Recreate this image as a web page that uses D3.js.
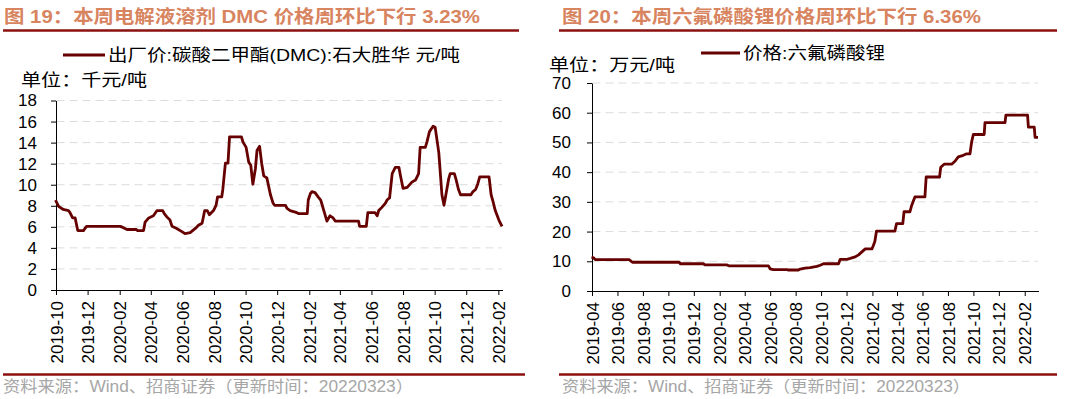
<!DOCTYPE html>
<html><head><meta charset="utf-8">
<script src="https://cdn.jsdelivr.net/npm/d3@7"></script>
<style>
html,body{margin:0;padding:0;background:#fff;}
svg{display:block;font-family:"Liberation Sans",Arial,"Noto Sans CJK SC",sans-serif;}
</style></head><body>
<svg id="c" width="1080" height="399"></svg>
<script>
// ---- Data: left chart (DMC, 千元/吨) ----
const dmcDates = ["2019-10-01","2019-10-07","2019-10-16","2019-10-26","2019-10-29","2019-11-03","2019-11-08","2019-11-10","2019-11-13","2019-11-24","2019-11-27","2019-11-30","2020-02-03","2020-02-08","2020-02-16","2020-03-05","2020-03-07","2020-03-19","2020-03-22","2020-03-29","2020-04-07","2020-04-14","2020-04-25","2020-04-28","2020-05-03","2020-05-09","2020-05-13","2020-05-22","2020-06-01","2020-06-07","2020-06-17","2020-06-27","2020-07-03","2020-07-10","2020-07-13","2020-07-15","2020-07-20","2020-07-24","2020-08-01","2020-08-06","2020-08-09","2020-08-17","2020-08-19","2020-08-24","2020-08-29","2020-09-01","2020-09-24","2020-09-27","2020-10-03","2020-10-08","2020-10-12","2020-10-16","2020-10-21","2020-10-24","2020-10-29","2020-11-02","2020-11-06","2020-11-12","2020-11-19","2020-11-24","2020-11-27","2020-12-18","2020-12-21","2020-12-27","2021-01-09","2021-01-13","2021-01-29","2021-01-31","2021-02-04","2021-02-07","2021-02-13","2021-02-19","2021-02-24","2021-03-02","2021-03-08","2021-03-14","2021-03-20","2021-03-24","2021-05-08","2021-05-10","2021-05-23","2021-05-26","2021-06-09","2021-06-13","2021-06-16","2021-06-22","2021-06-29","2021-07-02","2021-07-07","2021-07-12","2021-07-18","2021-07-25","2021-07-28","2021-08-02","2021-08-10","2021-08-19","2021-08-26","2021-09-01","2021-09-04","2021-09-14","2021-09-17","2021-09-22","2021-09-29","2021-10-03","2021-10-10","2021-10-16","2021-10-20","2021-10-23","2021-10-29","2021-11-01","2021-11-09","2021-11-12","2021-11-17","2021-11-21","2021-12-11","2021-12-15","2021-12-20","2021-12-24","2021-12-28","2022-01-15","2022-01-19","2022-01-23","2022-01-27","2022-02-03","2022-02-09"];
const dmcValues = [8.5,7.9,7.6,7.5,7.3,6.8,6.8,6.3,5.6,5.6,5.8,6.0,6.0,5.9,5.7,5.7,5.6,5.6,6.4,6.8,7.0,7.5,7.5,7.2,6.9,6.6,6.0,5.8,5.5,5.3,5.4,5.8,6.1,6.3,7.0,7.5,7.5,7.1,7.5,8.0,8.8,8.8,9.5,12.0,12.0,14.5,14.5,14.0,13.5,12.1,11.8,10.0,11.5,13.2,13.6,12.0,10.8,10.6,9.0,8.2,8.0,8.0,7.7,7.5,7.3,7.2,7.2,8.5,9.1,9.3,9.2,8.8,8.5,7.5,6.5,7.0,6.8,6.5,6.5,6.0,6.0,7.3,7.3,7.0,7.5,7.8,8.2,8.5,8.7,11.0,11.6,11.6,10.8,9.6,9.7,10.2,10.4,11.0,13.5,13.5,14.0,15.0,15.5,15.4,13.0,9.0,8.0,8.8,10.5,11.0,11.0,10.5,9.5,9.0,9.0,9.3,9.5,10.0,10.7,10.7,9.0,8.3,7.5,6.6,6.0];
const dmcTicks = ["2019-10","2019-12","2020-02","2020-04","2020-06","2020-08","2020-10","2020-12","2021-02","2021-04","2021-06","2021-08","2021-10","2021-12","2022-02"];
const dmcYTicks = [0,2,4,6,8,10,12,14,16,18];

// ---- Data: right chart (LiPF6, 万元/吨) ----
const lipDates = ["2019-04-01","2019-04-06","2019-04-10","2019-06-30","2019-07-08","2019-10-28","2019-10-31","2019-12-25","2019-12-29","2020-02-20","2020-02-24","2020-05-29","2020-06-02","2020-06-10","2020-07-12","2020-07-16","2020-08-09","2020-08-13","2020-08-25","2020-09-06","2020-09-22","2020-09-30","2020-10-08","2020-11-13","2020-11-17","2020-12-03","2020-12-11","2020-12-23","2020-12-31","2021-01-08","2021-01-16","2021-02-01","2021-02-04","2021-02-08","2021-02-12","2021-03-28","2021-04-01","2021-04-16","2021-04-19","2021-05-03","2021-05-07","2021-05-15","2021-06-08","2021-06-11","2021-07-13","2021-07-16","2021-07-24","2021-08-11","2021-08-19","2021-08-27","2021-09-08","2021-09-16","2021-09-24","2021-09-28","2021-10-02","2021-10-28","2021-10-30","2021-12-17","2021-12-19","2022-02-09","2022-02-11","2022-02-25","2022-02-27","2022-03-06"];
const lipValues = [11.2,11.0,10.4,10.4,9.5,9.5,9.0,9.0,8.6,8.6,8.3,8.3,7.3,7.0,7.0,6.9,6.9,7.2,7.5,7.7,8.1,8.5,9.0,9.0,10.5,10.5,10.8,11.3,12.0,13.0,14.0,14.0,15.0,16.5,20.0,20.0,22.5,22.5,26.5,26.5,28.5,31.5,31.5,38.2,38.2,41.5,42.5,42.5,43.5,45.0,45.5,46.0,46.0,50.0,52.5,52.5,56.5,56.5,59.0,59.0,55.0,55.0,51.5,51.5];
const lipTicks = ["2019-04","2019-06","2019-08","2019-10","2019-12","2020-02","2020-04","2020-06","2020-08","2020-10","2020-12","2021-02","2021-04","2021-06","2021-08","2021-10","2021-12","2022-02"];
const lipYTicks = [0,10,20,30,40,50,60,70];

const parseDay = d3.timeParse("%Y-%m-%d");
const parseMonth = d3.timeParse("%Y-%m");
const svg = d3.select("#c");

const LINE = "#660000";
const RULE = "#8b1111";
const TITLE = "#d7845f";

function chart(cfg) {
  const g = svg.append("g");
  const data = cfg.dates.map((d, i) => ({ d: parseDay(d), v: cfg.values[i] }));
  const x = d3.scaleTime().domain([parseDay(cfg.x0), parseDay(cfg.x1)]).range([cfg.left, cfg.right]);
  const y = d3.scaleLinear().domain([0, cfg.ymax]).range([cfg.bottom, cfg.top]);

  // title + rules
  g.append("text").attr("x", cfg.titleX).attr("y", 23).attr("fill", TITLE)
    .attr("font-size", 18).attr("font-weight", "bold")
    .attr("textLength", cfg.titleW).attr("lengthAdjust", "spacingAndGlyphs").text(cfg.title);
  g.append("line").attr("x1", cfg.ruleX0).attr("x2", cfg.ruleX1).attr("y1", 30.5).attr("y2", 30.5)
    .attr("stroke", RULE).attr("stroke-width", 2.5);
  g.append("line").attr("x1", cfg.ruleX0).attr("x2", cfg.ruleX1b).attr("y1", 374.5).attr("y2", 374.5)
    .attr("stroke", RULE).attr("stroke-width", 2.5);
  g.append("text").attr("x", cfg.srcX).attr("y", 392).attr("fill", "#a6a6a6")
    .attr("font-size", 16).attr("textLength", cfg.srcW).attr("lengthAdjust", "spacingAndGlyphs")
    .text("资料来源：Wind、招商证券（更新时间：20220323）");

  // legend
  g.append("line").attr("x1", cfg.legX0).attr("x2", cfg.legX1).attr("y1", cfg.legY).attr("y2", cfg.legY)
    .attr("stroke", LINE).attr("stroke-width", 3);
  g.append("text").attr("x", cfg.legX1 + 3).attr("y", cfg.legY + 6).attr("font-size", 17).attr("fill", "#000")
    .attr("textLength", cfg.legW).attr("lengthAdjust", "spacingAndGlyphs").text(cfg.legend);
  g.append("text").attr("x", cfg.unitX).attr("y", cfg.unitY + 6).attr("font-size", 17).attr("fill", "#000")
    .attr("textLength", 126).attr("lengthAdjust", "spacingAndGlyphs").text(cfg.unit);

  // grid
  g.append("g").selectAll("line").data(cfg.yTicks.filter(t => t > 0)).join("line")
    .attr("x1", cfg.left + 1).attr("x2", cfg.right).attr("y1", d => y(d) + 0.5).attr("y2", d => y(d) + 0.5)
    .attr("stroke", "#dcdcdc").attr("stroke-width", 1).attr("stroke-dasharray", "8,5");

  // y axis
  const ya = g.append("g").attr("transform", `translate(${cfg.left + 0.5},0.5)`)
    .call(d3.axisLeft(y).tickValues(cfg.yTicks).tickSize(5).tickPadding(cfg.ypad).tickSizeOuter(0));
  ya.select(".domain").attr("stroke", "#000");
  ya.selectAll(".tick line").attr("stroke", "#000");
  ya.selectAll("text").attr("font-size", 17).attr("fill", "#000")
    .attr("font-family", '"Liberation Sans",Arial,sans-serif');

  // x axis
  const xa = g.append("g").attr("transform", `translate(0.5,${cfg.bottom + 0.5})`)
    .call(d3.axisBottom(x).tickValues(cfg.xTicks.map(parseMonth)).tickSize(5).tickSizeOuter(0)
      .tickFormat(d3.timeFormat("%Y-%m")));
  xa.select(".domain").attr("stroke", "#000");
  xa.selectAll(".tick line").attr("stroke", "#000");
  xa.selectAll("text").attr("font-size", 17).attr("fill", "#000")
    .attr("font-family", '"Liberation Sans",Arial,sans-serif')
    .attr("transform", "rotate(-90)").attr("text-anchor", "end")
    .attr("x", -11).attr("y", 0).attr("dy", "0.36em");

  // series
  g.append("path").datum(data)
    .attr("d", d3.line().x(p => x(p.d)).y(p => y(p.v)))
    .attr("fill", "none").attr("stroke", LINE).attr("stroke-width", 2.8).attr("stroke-linejoin", "round");
}

chart({
  dates: dmcDates, values: dmcValues, xTicks: dmcTicks, yTicks: dmcYTicks,
  x0: "2019-10-01", x1: "2022-02-09", left: 55.5, right: 502, top: 100, bottom: 289.5, ymax: 18, ypad: 14,
  title: "图 19：本周电解液溶剂 DMC 价格周环比下行 3.23%", titleX: 4, titleW: 476,
  ruleX0: 3, ruleX1: 519, ruleX1b: 525, srcX: 3, srcW: 410,
  legX0: 63, legX1: 105, legY: 55, legend: "出厂价:碳酸二甲酯(DMC):石大胜华 元/吨", legW: 352,
  unit: "单位：千元/吨", unitX: 21, unitY: 80
});
chart({
  dates: lipDates, values: lipValues, xTicks: lipTicks, yTicks: lipYTicks,
  x0: "2019-04-01", x1: "2022-03-06", left: 591.5, right: 1038, top: 82.5, bottom: 290.5, ymax: 70, ypad: 16,
  title: "图 20：本周六氟磷酸锂价格周环比下行 6.36%", titleX: 562, titleW: 419,
  ruleX0: 559, ruleX1: 1057, ruleX1b: 1057, srcX: 562, srcW: 408,
  legX0: 701, legX1: 740, legY: 53, legend: "价格:六氟磷酸锂", legW: 142,
  unit: "单位：万元/吨", unitX: 549, unitY: 65
});
</script></body></html>
